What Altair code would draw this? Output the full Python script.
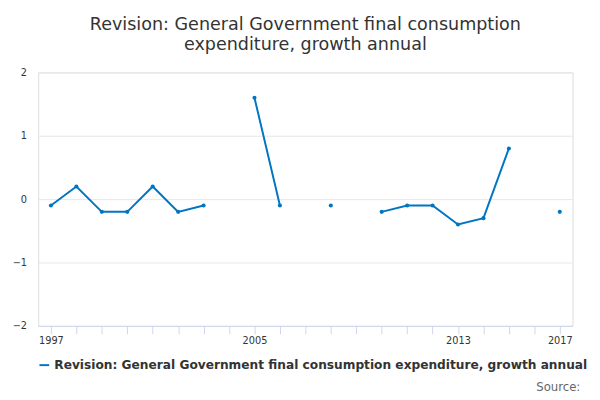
import pandas as pd
import altair as alt

years = list(range(1997, 2018))
values = [-0.1, 0.2, -0.2, -0.2, 0.2, -0.2, -0.1, None, 1.6, -0.1, None, -0.1,
          None, -0.2, -0.1, -0.1, -0.4, -0.3, 0.8, None, -0.2]
series = "Revision: General Government final consumption expenditure, growth annual"

df = pd.DataFrame({"year": years, "value": values, "series": series})

x = alt.X("year:Q", title=None, scale=alt.Scale(domain=[1996.5, 2017.5], nice=False, zero=False),
          axis=alt.Axis(values=years, grid=False, tickColor="#ccd6eb", domainColor="#ccd6eb",
                        labelExpr="indexof([1997,2005,2013,2017], datum.value) >= 0 ? datum.value : ''",
                        labelColor="#333", labelFontSize=10, tickSize=8))
y = alt.Y("value:Q", title=None, scale=alt.Scale(domain=[-2, 2]),
          axis=alt.Axis(values=[-2, -1, 0, 1, 2], gridColor="#e6e6e6", domain=False, ticks=False,
                        labelColor="#333", labelFontSize=10, labelPadding=12))
color = alt.Color("series:N", scale=alt.Scale(range=["#0075c2"]),
                  legend=alt.Legend(title=None, orient="bottom", labelFontSize=12.5, labelFontWeight="bold",
                                    labelColor="#333", symbolType="stroke", symbolStrokeWidth=2,
                                    labelLimit=700, offset=14, direction="horizontal"))

line = alt.Chart(df).mark_line(strokeWidth=2).encode(x=x, y=y, color=color)
pts = alt.Chart(df).mark_point(filled=True, size=18, opacity=1).encode(x=x, y=y, color=color)
src = alt.Chart(pd.DataFrame({"t": ["Source:"]})).mark_text(
    align="right", baseline="middle", fontSize=12, color="#666").encode(
    text="t:N", x=alt.value(556), y=alt.value(323))

chart = (line + pts + src).properties(
    width=548, height=260,
    padding={"left": 4, "top": 4, "right": 4, "bottom": 4},
    title=alt.Title(["Revision: General Government final consumption", "expenditure, growth annual"],
                    fontSize=18, fontWeight="normal", color="#333", anchor="middle", offset=14),
).configure_view(stroke=None).configure(font="DejaVu Sans")

chart.save("out.html", embed_options={"renderer": "svg", "actions": False})
